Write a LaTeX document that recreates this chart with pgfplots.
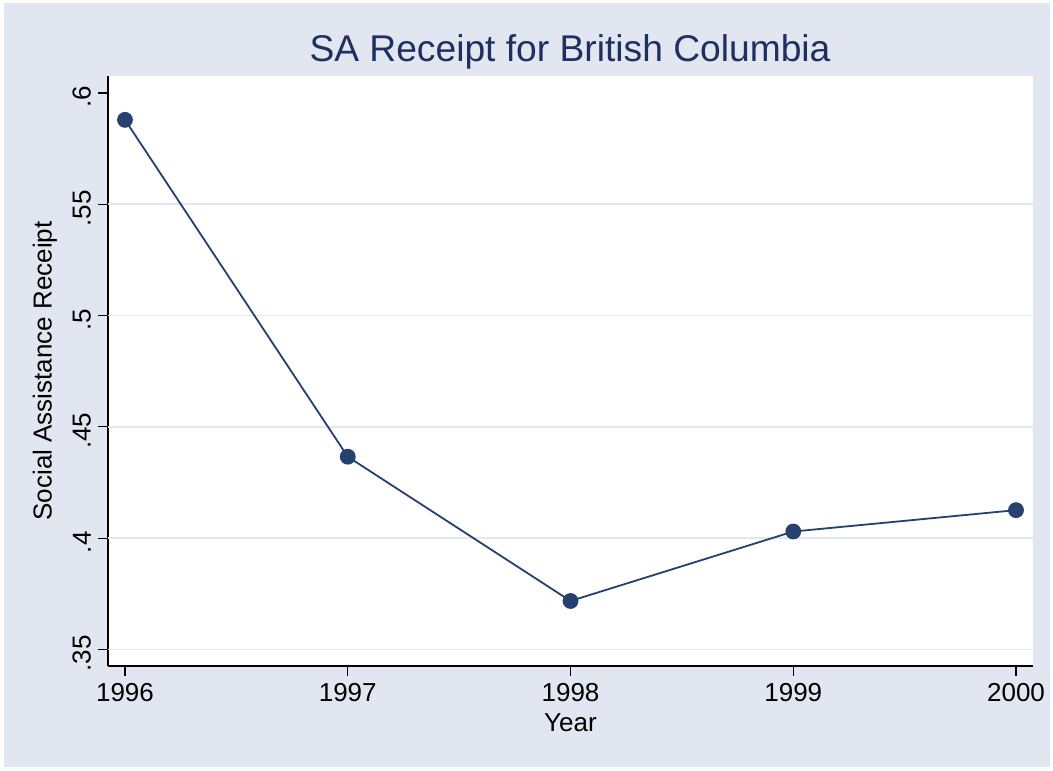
\documentclass[border=0pt]{standalone}
\usepackage{fontspec}
\setmainfont{Liberation Sans}
\usepackage{pgfplots}
\pgfplotsset{compat=1.18}
\definecolor{bgblue}{HTML}{E1E6F0}
\definecolor{gridc}{HTML}{E3E7F0}
\definecolor{navyline}{HTML}{26406F}
\definecolor{titlec}{HTML}{1F3060}

\begin{document}
\begin{tikzpicture}
\fill[white] (0,0) rectangle (526.5pt,385pt);
\fill[bgblue] (2pt,1.5pt) rectangle (525pt,383.5pt);
\begin{axis}[
  at={(54pt,52pt)}, anchor=south west,
  width=462.5pt, height=295pt, scale only axis,
  axis background/.style={fill=white},
  xmin=1995.9237, xmax=2000.0763,
  ymin=0.3426, ymax=0.6076,
  axis x line*=bottom, axis y line*=left,
  axis line style={black, line width=0.6pt},
  xtick={1996,1997,1998,1999,2000},
  xticklabels={1996,1997,1998,1999,2000},
  ytick={0.35,0.4,0.45,0.5,0.55,0.6},
  yticklabels={.35,.4,.45,.5,.55,.6},
  tick align=outside, major tick length=5pt,
  tick style={black, line width=0.6pt},
  ticklabel style={font=\fontsize{13}{15}\selectfont},
  yticklabel style={rotate=90, anchor=south, xshift=-2pt},
  extra y ticks={0.35,0.4,0.45,0.5,0.55},
  extra y tick labels={},
  extra y tick style={grid=major, major tick length=0pt},
  major grid style={gridc, line width=0.8pt},
  xlabel={Year},
  xlabel style={font=\fontsize{13}{15}\selectfont, yshift=1pt},
  clip=false,
]
\addplot[navyline, line width=0.9pt, mark=*, mark size=3.5pt,
  mark options={fill=navyline, draw=navyline}]
  coordinates {(1996,0.5879)(1997,0.4366)(1998,0.3718)(1999,0.4030)(2000,0.4126)};
\end{axis}
\node[anchor=base, text=titlec, font=\fontsize{18.6}{22}\selectfont] at (285pt,354pt) {SA Receipt for British Columbia};
\node[rotate=90, font=\fontsize{13}{15}\selectfont] at (22.5pt,199.5pt) {Social Assistance Receipt};
\end{tikzpicture}
\end{document}
